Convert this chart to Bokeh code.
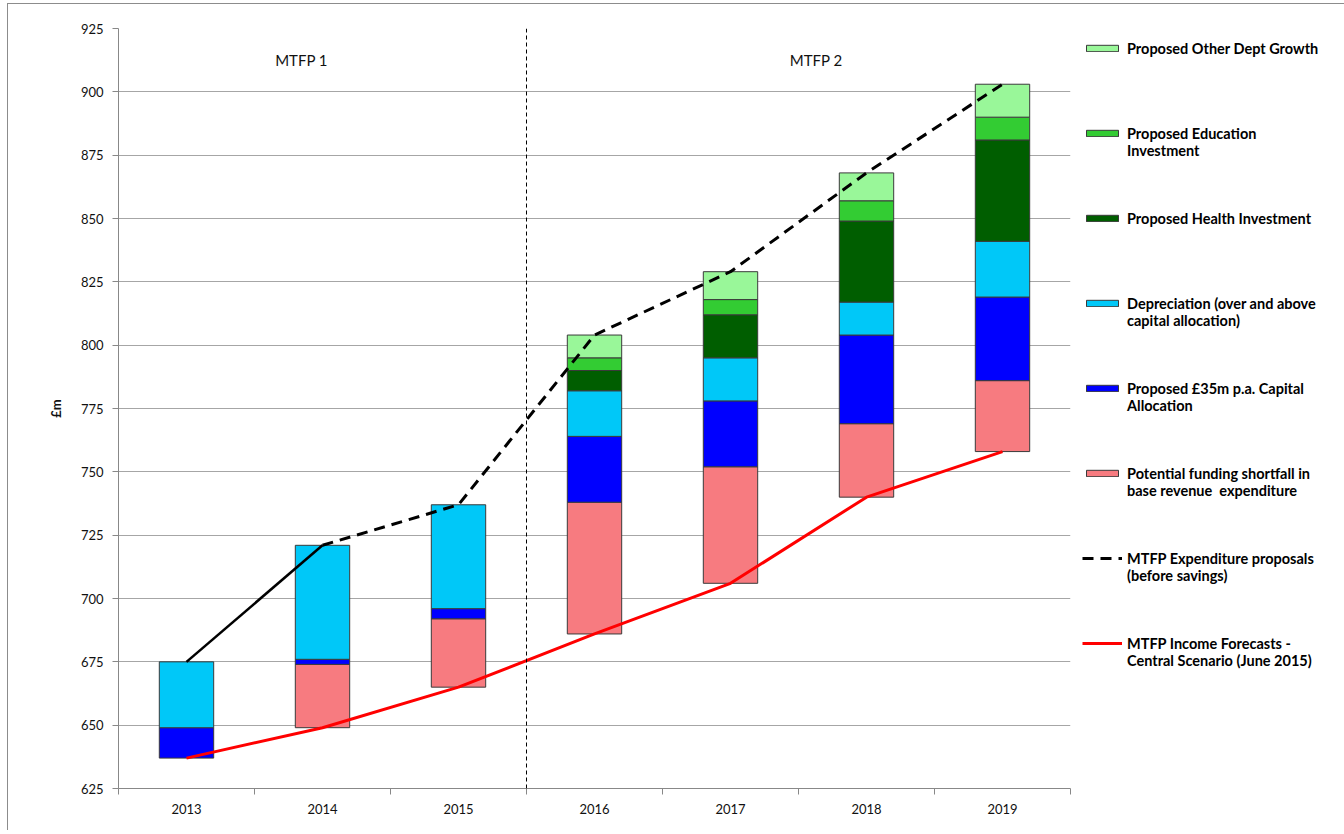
import numpy as np
from bokeh.plotting import figure
from bokeh.models import (ColumnDataSource, Legend, LegendItem, Span, Label,
                          FixedTicker, Range1d)
from bokeh.embed import file_html
from bokeh.resources import INLINE

years = ["2013", "2014", "2015", "2016", "2017", "2018", "2019"]
income = [637, 649, 665, 686, 706, 740, 758]
shortfall = [0, 25, 27, 52, 46, 29, 28]
capital = [12, 2, 4, 26, 26, 35, 33]
depreciation = [26, 45, 41, 18, 17, 13, 22]
health = [0, 0, 0, 8, 17, 32, 40]
education = [0, 0, 0, 5, 6, 8, 9]
other = [0, 0, 0, 9, 11, 11, 13]
expenditure = [675, 721, 737, 804, 829, 868, 903]
y_ticks = [625, 650, 675, 700, 725, 750, 775, 800, 825, 850, 875, 900, 925]

series = [
    ("Potential funding shortfall in\nbase revenue  expenditure", shortfall, "#F77B80"),
    ("Proposed £35m p.a. Capital\nAllocation", capital, "#0000FF"),
    ("Depreciation (over and above\ncapital allocation)", depreciation, "#00C8F8"),
    ("Proposed Health Investment", health, "#005E00"),
    ("Proposed Education\nInvestment", education, "#33CC33"),
    ("Proposed Other Dept Growth", other, "#99F799"),
]

xs = np.arange(len(years))

p = figure(frame_width=952, frame_height=760, output_backend="svg",
           toolbar_location=None, min_border_left=110, min_border_top=24,
           min_border_bottom=42, min_border_right=271,
           x_range=Range1d(-0.5, len(years) - 0.5), y_range=Range1d(625, 925))
p.background_fill_color = "white"
p.border_fill_color = "white"
p.outline_line_color = None
p.styles = {"border-top": "1px solid #8C8C8C", "border-left": "1px solid #8C8C8C",
            "border-right": "1px solid #8C8C8C", "margin-left": "7px", "margin-top": "3px"}

# grid
p.xgrid.grid_line_color = None
p.ygrid.grid_line_color = "#A6A6A6"
p.ygrid.grid_line_width = 1
p.ygrid.ticker = FixedTicker(ticks=y_ticks)

# axes
p.yaxis.ticker = FixedTicker(ticks=y_ticks)
p.yaxis.axis_line_color = "#888888"
p.yaxis.major_tick_line_color = "#888888"
p.yaxis.major_tick_out = 6
p.yaxis.major_tick_in = 0
p.yaxis.minor_tick_line_color = None
p.yaxis.major_label_text_font = "Lato"
p.yaxis.major_label_text_font_size = "13px"
p.yaxis.major_label_text_color = "#111111"
p.yaxis.major_label_standoff = 9
p.yaxis.axis_label = "£m"
p.yaxis.axis_label_text_font = "Lato"
p.yaxis.axis_label_text_font_style = "bold"
p.yaxis.axis_label_text_font_size = "13px"
p.yaxis.axis_label_text_color = "#111111"
p.yaxis.axis_label_standoff = 14

p.xaxis.ticker = FixedTicker(ticks=list(xs), minor_ticks=list(np.arange(-0.5, len(years), 1.0)))
p.xaxis.major_label_overrides = {int(i): y for i, y in zip(xs, years)}
p.xaxis.axis_line_color = "#888888"
p.xaxis.major_tick_line_color = None
p.xaxis.minor_tick_line_color = "#888888"
p.xaxis.minor_tick_out = 6
p.xaxis.minor_tick_in = 0
p.xaxis.major_label_text_font = "Lato"
p.xaxis.major_label_text_font_size = "13px"
p.xaxis.major_label_text_color = "#111111"
p.xaxis.major_label_standoff = 9

# stacked bars
bottom = np.array(income, dtype=float)
bar_renderers = {}
for label, vals, color in series:
    vals = np.array(vals, dtype=float)
    mask = vals > 0
    src = ColumnDataSource(dict(x=xs[mask], bottom=bottom[mask], top=(bottom + vals)[mask]))
    r = p.vbar(x="x", bottom="bottom", top="top", width=0.4, source=src,
               fill_color=color, line_color="#3A3A3A", line_width=1)
    bar_renderers[label] = r
    bottom = bottom + vals

# divider
p.add_layout(Span(location=2.5, dimension="height", line_color="black",
                  line_width=1, line_dash="4 3"))

# lines
src_solid = ColumnDataSource(dict(x=xs[:2], y=expenditure[:2]))
src_dash = ColumnDataSource(dict(x=xs[1:], y=expenditure[1:]))
r_solid = p.line("x", "y", source=src_solid, line_color="black", line_width=2.5)
r_dash = p.line("x", "y", source=src_dash, line_color="black", line_width=3, line_dash="11 7")
r_inc = p.line(xs, income, line_color="#FF0000", line_width=3)

# annotations
for xpos, txt in [(0.846, "MTFP 1"), (4.63, "MTFP 2")]:
    p.add_layout(Label(x=xpos, y=912.5, text=txt, text_align="center", text_baseline="middle",
                       text_font="Lato", text_font_size="15px", text_color="#111111"))


def two_line(lbl):
    # blank leading line so that the swatch sits beside the first text line
    return " \n" + lbl if "\n" in lbl else lbl


items = []
for label, vals, color in reversed(series):
    items.append(LegendItem(label=two_line(label), renderers=[bar_renderers[label]]))
items.append(LegendItem(label=two_line("MTFP Expenditure proposals\n(before savings)"), renderers=[r_dash]))
items.append(LegendItem(label=two_line("MTFP Income Forecasts -\nCentral Scenario (June 2015)"), renderers=[r_inc]))

legend = Legend(items=items, location=(12, 115))
legend.border_line_color = None
legend.background_fill_alpha = 0
legend.glyph_width = 40
legend.glyph_height = 8
legend.label_text_font = "Lato"
legend.label_text_font_style = "bold"
legend.label_text_font_size = "14.5px"
legend.label_text_color = "black"
legend.label_text_line_height = 1.35
legend.label_standoff = 5
legend.label_height = 60
legend.spacing = 25
legend.padding = 0
legend.margin = 0
p.add_layout(legend, "right")

open("out.html", "w").write(file_html(p, INLINE))
